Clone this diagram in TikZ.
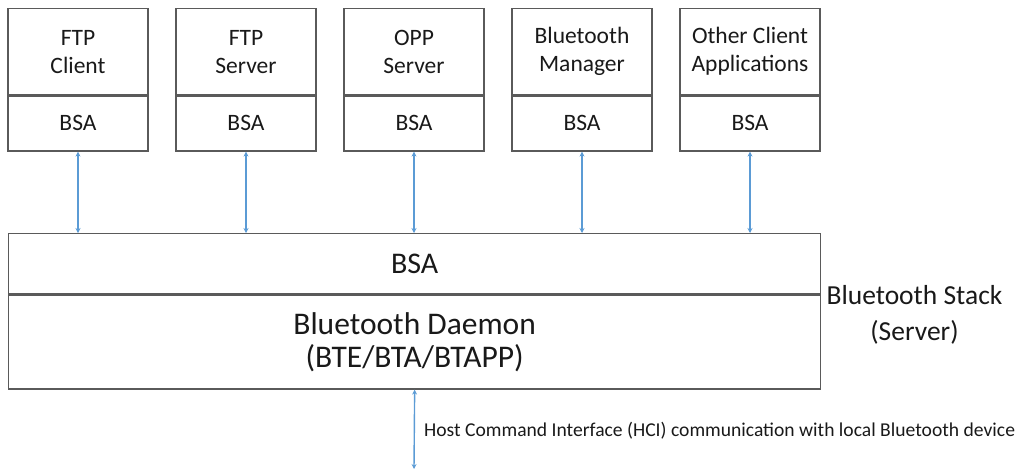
\documentclass[tikz,border=0pt]{standalone}
\usepackage{fontspec}
\setmainfont{Carlito}
\usetikzlibrary{arrows.meta}
\definecolor{boxgray}{HTML}{5A5A5A}
\definecolor{linkblue}{HTML}{5B9BD5}
\begin{document}
\begin{tikzpicture}[x=1pt,y=-1pt,
  box/.style={draw=boxgray, line width=1.3pt, minimum width=140pt, inner sep=0pt, align=center, text=black!90, font=\fontsize{23.5}{28}\selectfont},
  bigbox/.style={draw=boxgray, line width=1.3pt, minimum width=812pt, inner sep=0pt, align=center, text=black!90},
  link/.style={draw=linkblue, line width=1.4pt, {Stealth[length=5pt,width=5pt]}-{Stealth[length=5pt,width=5pt]}},
  lbl/.style={inner sep=0pt, align=center, text=black!90}]
\useasboundingbox (0,0) rectangle (1021,472);

% client applications
\node[box, minimum height=86pt, anchor=north] (app1) at (78,8) {FTP\\Client};
\node[box, minimum height=55pt, anchor=north] (bsa1) at (app1.south) {BSA};
\node[box, minimum height=86pt, anchor=north] (app2) at (246,8) {FTP\\Server};
\node[box, minimum height=55pt, anchor=north] (bsa2) at (app2.south) {BSA};
\node[box, minimum height=86pt, anchor=north] (app3) at (414,8) {OPP\\Server};
\node[box, minimum height=55pt, anchor=north] (bsa3) at (app3.south) {BSA};
\node[box, minimum height=86pt, anchor=north] (app4) at (582,8) {Bluetooth\\Manager};
\node[box, minimum height=55pt, anchor=north] (bsa4) at (app4.south) {BSA};
\node[box, minimum height=86pt, anchor=north] (app5) at (750,8) {Other Client\\Applications};
\node[box, minimum height=55pt, anchor=north] (bsa5) at (app5.south) {BSA};

% server stack
\node[bigbox, minimum height=60pt, anchor=north west, font=\fontsize{30}{33}\selectfont] (srvbsa) at (8,233) {BSA};
\node[bigbox, minimum height=94pt, anchor=north, font=\fontsize{31.5}{33}\selectfont] (daemon) at (srvbsa.south) {Bluetooth Daemon\\(BTE/BTA/BTAPP)};
\node[lbl, font=\fontsize{27.5}{36}\selectfont] (stack) at (914.5,315) {Bluetooth Stack\\(Server)};

% links
\foreach \i in {1,...,5}{
  \draw[link] (bsa\i.south) -- (bsa\i.south |- srvbsa.north);
}
\coordinate (hciend) at (414,469);
\draw[link] (daemon.south) -- (hciend);
\node[lbl, anchor=west, font=\fontsize{19.6}{22}\selectfont] (hci) at (424,431) {Host Command Interface (HCI) communication with local Bluetooth device};
\end{tikzpicture}
\end{document}
